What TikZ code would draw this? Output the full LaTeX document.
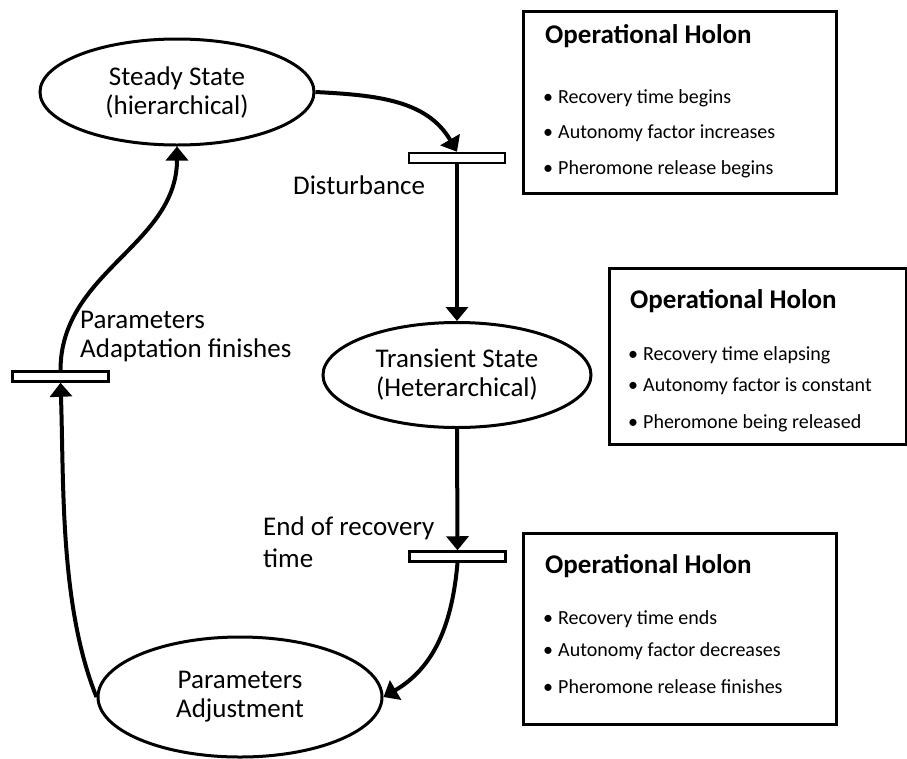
\documentclass[tikz,border=0pt]{standalone}
\usepackage{fontspec}
\setmainfont{Carlito}
\usetikzlibrary{shapes.geometric,arrows.meta}
\begin{document}
\begin{tikzpicture}[x=1pt,y=-1pt,
  state/.style={ellipse, draw, line width=3pt, inner sep=0pt, align=center, font=\fontsize{27}{29}\selectfont},
  bar/.style={rectangle, draw, line width=2.5pt, minimum width=96pt, minimum height=10pt, inner sep=0pt, fill=white},
  lbl/.style={font=\fontsize{27}{29}\selectfont, align=left, inner sep=0pt, anchor=base west},
  holon/.style={rectangle, draw, line width=3pt, inner sep=0pt, anchor=north west},
  ttl/.style={font=\bfseries\fontsize{27}{30}\selectfont, anchor=base west, inner sep=0pt},
  item/.style={font=\fontsize{20}{24}\selectfont, anchor=base west, inner sep=0pt},
  flow/.style={line width=4pt, -{Triangle[width=22pt,length=14pt]}},
]
\useasboundingbox (0,0) rectangle (907,758);

% states
\node[state, minimum width=274pt, minimum height=106pt] (steady) at (177,92) {Steady State\\(hierarchical)};
\node[state, minimum width=268pt, minimum height=105pt] (trans) at (457,375) {Transient State\\(Heterarchical)};
\node[state, minimum width=284pt, minimum height=120pt] (adj) at (240,697) {Parameters\\Adjustment};

% transitions
\node[bar] (t1) at (457,158) {};
\node[bar] (t2) at (60.5,376.5) {};
\node[bar] (t3) at (457.5,556.5) {};

% labels
\node[lbl] (l1) at (293,194) {Disturbance};
\node[lbl] (l2) at (80,357) {Parameters\\Adaptation finishes};
\node[lbl, font=\fontsize{27}{32}\selectfont] (l3) at (263,567) {End of recovery\\time};

% holon boxes
\node[holon, minimum width=313pt, minimum height=182pt] (h1) at (522,10) {};
\node[holon, minimum width=297pt, minimum height=176pt] (h2) at (608,267) {};
\node[holon, minimum width=313pt, minimum height=191pt] (h3) at (522,532) {};

\node[ttl] (h1t) at (545,43) {Operational Holon};
\node[item] (h1a) at (543,103) {\makebox[15pt][l]{•}Recovery time begins};
\node[item] (h1b) at (543,138) {\makebox[15pt][l]{•}Autonomy factor increases};
\node[item] (h1c) at (543,174) {\makebox[15pt][l]{•}Pheromone release begins};

\node[ttl] (h2t) at (630,308) {Operational Holon};
\node[item] (h2a) at (628,360) {\makebox[15pt][l]{•}Recovery time elapsing};
\node[item] (h2b) at (628,391) {\makebox[15pt][l]{•}Autonomy factor is constant};
\node[item] (h2c) at (628,428) {\makebox[15pt][l]{•}Pheromone being released};

\node[ttl] (h3t) at (545,573) {Operational Holon};
\node[item] (h3a) at (543,624) {\makebox[15pt][l]{•}Recovery time ends};
\node[item] (h3b) at (543,656) {\makebox[15pt][l]{•}Autonomy factor decreases};
\node[item] (h3c) at (543,693) {\makebox[15pt][l]{•}Pheromone release finishes};

% connectors
\draw[flow] (steady.east) to[out=-3, in=120] (t1.north);
\draw[flow] (t1.south) -- (trans.north);
\draw[flow] (trans.south) -- (t3.north);
\draw[flow] (t3.south) to[out=-95, in=30] (adj.east);
\draw[flow] (adj.west) to[out=112, in=-88, looseness=0.8] (t2.south);
\draw[flow] (t2.north) to[out=90, in=-90] (steady.south);
\end{tikzpicture}
\end{document}
